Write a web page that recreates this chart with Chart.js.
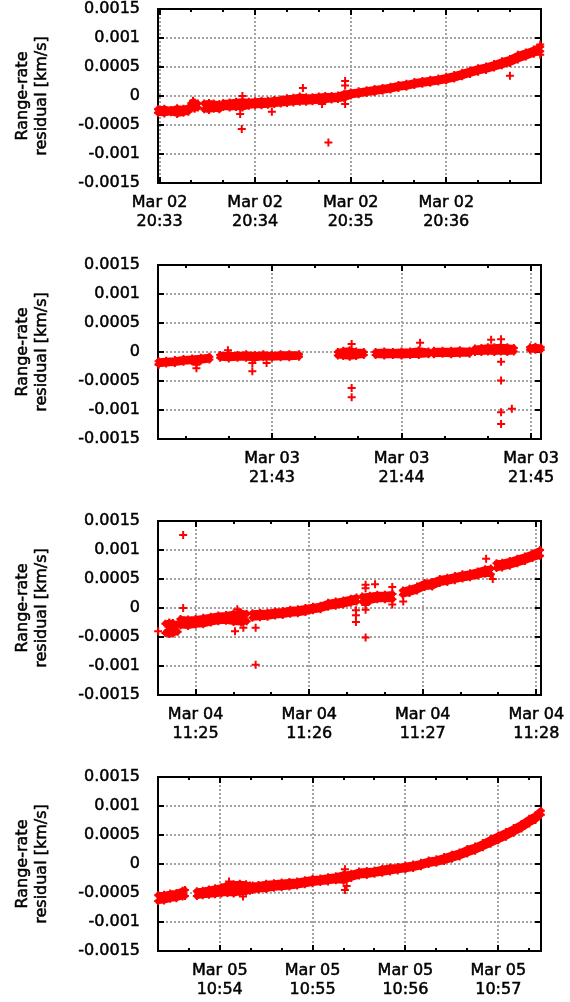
<!DOCTYPE html>
<html>
<head>
<meta charset="utf-8">
<script src="https://cdn.jsdelivr.net/npm/chart.js@4/dist/chart.umd.min.js"></script>
<style>
  html, body { margin: 0; padding: 0; background: #fff; overflow: hidden; }
  canvas { position: absolute; left: 0; }
</style>
</head>
<body>
<canvas id="pass1" width="570" height="256" style="top:0px"></canvas>
<canvas id="pass2" width="570" height="256" style="top:256px"></canvas>
<canvas id="pass3" width="570" height="256" style="top:512px"></canvas>
<canvas id="pass4" width="570" height="256" style="top:768px"></canvas>
<script>
// ------------------------------------------
// Range-rate residuals [km/s], one pass per panel.
// Times are seconds after the whole minute given in the comment.
// The residual cloud is kept as an upper/lower edge per sample time
// (null = no data), stray points are listed separately.
// ------------------------------------------

const residualTicks = [-0.0015, -0.001, -0.0005, 0, 0.0005, 0.001, 0.0015];
const residualTickLabels = ['-0.0015', '-0.001', '-0.0005', '0', '0.0005', '0.001', '0.0015'];
const residualTitle = ['Range-rate', 'residual [km/s]'];

// Pass 1 - Mar 02, seconds after 20:33:00
const p1Day = 'Mar 02';
const p1Range = [-1, 239.5];
const p1Ticks = [0, 60, 120, 180];
const p1TickLabels = ['20:33', '20:34', '20:35', '20:36'];
const p1Time  = [-1, 3, 7, 11, 15, 18, 19, 20, 22, 24, 26, 28, 31, 34, 37.5, 39, 40, 44, 48, 52, 56, 60, 64, 68, 72, 76, 80, 84, 88, 92, 96, 100, 104, 108, 112, 116, 120, 125, 130, 135, 140, 145, 150, 155, 160, 165, 170, 175, 180, 185, 190, 195, 200, 205, 210, 215, 220, 225, 230, 235, 239];
const p1Upper = [-0.00023, -0.00022, -0.00024, -0.00021, -0.00022, -0.0002, null, -0.00012, -0.00011, -0.00013, null, -0.00013, -0.00012, -0.00013, -0.00014, null, -0.00012, -0.00011, -0.0001, -0.00009, -0.0001, -0.00009, -0.00008, -0.00008, -0.00007, -0.00006, -0.00004, -0.00003, -0.00001, -0.00002, -0.00002, -0.00001, 0, 0, 0.00001, 0.00004, 0.00006, 0.00008, 0.0001, 0.00012, 0.00014, 0.00016, 0.00019, 0.00021, 0.00024, 0.00026, 0.00028, 0.0003, 0.00033, 0.00036, 0.0004, 0.00044, 0.00048, 0.00051, 0.00055, 0.0006, 0.00064, 0.00071, 0.00075, 0.0008, 0.00085];
const p1Lower = [-0.00029, -0.0003, -0.00028, -0.00031, -0.00029, -0.00027, null, -0.00021, -0.00022, -0.0002, null, -0.00023, -0.00024, -0.00022, -0.00023, null, -0.00019, -0.0002, -0.00019, -0.0002, -0.00017, -0.00016, -0.00016, -0.00015, -0.00014, -0.00013, -0.00012, -0.00011, -0.0001, -0.0001, -0.00009, -0.00008, -0.00007, -0.00006, -0.00005, -0.00004, 0.00001, 0.00003, 0.00005, 0.00007, 0.00009, 0.00011, 0.00014, 0.00016, 0.00019, 0.00021, 0.00023, 0.00025, 0.00027, 0.0003, 0.00034, 0.00038, 0.00042, 0.00045, 0.00049, 0.00053, 0.00057, 0.00063, 0.00068, 0.00073, 0.00077];
const p1StrayTime  = [21, 50.6, 51.6, 52, 70.5, 90, 102, 106, 116.5, 116.5, 116.5, 220, 239, 239];
const p1StrayValue = [-0.00008, -0.00031, -0.00057, 0, -0.00027, 0.00014, -0.00014, -0.0008, 0.00026, 0.00018, -0.00014, 0.00035, 0.00089, 0.00071];

// Pass 2 - Mar 03, seconds after 21:42:00
const p2Day = 'Mar 03';
const p2Range = [7.2, 184.6];
const p2Ticks = [60, 120, 180];
const p2TickLabels = ['21:43', '21:44', '21:45'];
const p2Time  = [7.5, 11, 15, 19, 23, 27, 31, 34, 36, 40, 44, 48, 52, 56, 60, 64, 68, 72.5, 80, 90.5, 93, 96, 99, 102.5, 105, 108, 112, 116, 120, 124, 128, 132.5, 133.7, 135, 139, 143, 147, 151.5, 152.8, 154, 157, 160, 163, 166, 169, 172, 176, 179.5, 182, 184.5];
const p2Upper = [-0.00016, -0.00015, -0.00014, -0.00012, -0.00011, -0.0001, -0.00008, null, -0.00005, -0.00005, -0.00005, -0.00004, -0.00005, -0.00004, -0.00005, -0.00004, -0.00004, -0.00004, null, 0, 0.00002, 0.00003, 0.00001, 0, null, 0, 0.00001, 0, 0.00001, 0.00001, 0.00003, 0.00001, null, 0.00002, 0.00002, 0.00002, 0.00003, 0.00002, null, 0.00006, 0.00007, 0.00008, 0.00008, 0.00009, 0.00008, 0.00007, null, 0.00008, 0.00009, 0.00008];
const p2Lower = [-0.00021, -0.0002, -0.00019, -0.00017, -0.00016, -0.00015, -0.00013, null, -0.0001, -0.00011, -0.0001, -0.0001, -0.00011, -0.00009, -0.0001, -0.00009, -0.00009, -0.00008, null, -0.00006, -0.00007, -0.00008, -0.00007, -0.00005, null, -0.00005, -0.00006, -0.00005, -0.00006, -0.00005, -0.00005, -0.00004, null, -0.00004, -0.00003, -0.00004, -0.00003, -0.00003, null, 0, 0, 0.00001, 0, 0.00001, 0, 0.00001, null, 0.00004, 0.00004, 0.00004];
const p2StrayTime  = [7.5, 25, 25, 39.6, 50.9, 50.9, 57.5, 96.9, 96.9, 96.9, 128.6, 161.5, 166.1, 166.1, 166.1, 166.1, 166.1, 171.1];
const p2StrayValue = [-0.00022, -0.00028, -0.00022, 0.00003, -0.00033, -0.00019, -0.00019, 0.00014, -0.00062, -0.00078, 0.00016, 0.00021, 0.00022, -0.00017, -0.00049, -0.00104, -0.00124, -0.00098];

// Pass 3 - Mar 04, seconds after 11:24:00
const p3Day = 'Mar 04';
const p3Range = [40.1, 242.5];
const p3Ticks = [60, 120, 180, 240];
const p3TickLabels = ['11:25', '11:26', '11:27', '11:28'];
const p3Time  = [44, 46, 48, 50.5, 51.2, 52, 56, 60, 64, 68, 72, 76, 80, 84, 87, 88.5, 90, 94, 98, 102, 106, 110, 114, 118, 122, 126, 130, 134, 138, 142, 145, 146.5, 148, 152, 156, 160, 164, 167, 169.5, 173, 177, 181, 185, 189, 193, 197, 201, 205, 209, 213, 216, 217.8, 219, 222, 226, 230, 234, 238, 242];
const p3Upper = [-0.00027, -0.00025, -0.00026, -0.00028, null, -0.00019, -0.0002, -0.00019, -0.00017, -0.00015, -0.00013, -0.00012, -0.0001, -0.00008, -0.0001, null, -0.00009, -0.00008, -0.00008, -0.00006, -0.00005, -0.00003, -0.00002, 0, 0.00002, 0.00004, 0.00009, 0.00011, 0.00013, 0.00016, 0.00018, null, 0.0002, 0.00021, 0.00023, 0.00023, 0.00024, null, 0.0003, 0.00033, 0.00037, 0.00043, 0.00045, 0.0005, 0.00052, 0.00055, 0.00058, 0.0006, 0.00063, 0.00067, 0.00068, null, 0.00077, 0.00078, 0.00081, 0.00085, 0.00089, 0.00094, 0.001];
const p3Lower = [-0.00043, -0.00045, -0.00044, -0.00041, null, -0.0003, -0.00031, -0.00029, -0.00028, -0.00025, -0.00023, -0.00022, -0.00024, -0.00025, -0.00023, null, -0.00017, -0.00016, -0.00015, -0.00013, -0.00012, -0.0001, -0.00009, -0.00007, -0.00004, -0.00002, 0.00002, 0.00004, 0.00006, 0.00009, 0.00011, null, 0.00011, 0.00012, 0.00015, 0.00015, 0.00015, null, 0.00023, 0.00026, 0.0003, 0.00036, 0.00037, 0.00043, 0.00045, 0.00048, 0.00051, 0.00053, 0.00056, 0.00059, 0.00058, null, 0.00069, 0.0007, 0.00073, 0.00077, 0.00081, 0.00086, 0.0009];
const p3StrayTime  = [40.2, 53.4, 53.4, 80.8, 82, 85.2, 91.7, 91.7, 144.7, 144.7, 144.7, 149.8, 149.8, 149.8, 149.8, 149.8, 154.8, 163.9, 163.9, 169.7, 213.5, 217];
const p3StrayValue = [-0.0004, 0.00126, 0, -0.0004, -0.00002, -0.00034, -0.00034, -0.00098, -0.00004, -0.000125, -0.00024, 0.0004, 0.00034, 0.00005, -0.00003, -0.00051, 0.00041, 0.00036, 0.00006, 0.00011, 0.00085, 0.0005];

// Pass 4 - Mar 05, seconds after 10:53:00
const p4Day = 'Mar 05';
const p4Range = [20.1, 267.6];
const p4Ticks = [60, 120, 180, 240];
const p4TickLabels = ['10:54', '10:55', '10:56', '10:57'];
const p4Time  = [20.2, 24, 28, 32, 36, 37.5, 41, 45.2, 49, 53, 57, 61, 65, 69, 73, 77, 79.5, 80.4, 81.3, 85, 90, 95, 100, 105, 110, 115, 120, 125, 130, 135, 140, 145, 150, 155, 160, 165, 170, 175, 180, 185, 190, 195, 200, 205, 210, 215, 220, 225, 230, 235, 240, 245, 250, 255, 260, 264, 267.5];
const p4Upper = [-0.00054, -0.00053, -0.00051, -0.0005, -0.00046, -0.00045, null, -0.00047, -0.00046, -0.00044, -0.00042, -0.0004, -0.00036, -0.00035, -0.00034, -0.00035, -0.00037, null, -0.00037, -0.00036, -0.00034, -0.00033, -0.00032, -0.00031, -0.0003, -0.00028, -0.00026, -0.00025, -0.00023, -0.00021, -0.00018, -0.00017, -0.00013, -0.00012, -0.00011, -0.00008, -0.00006, -0.00005, -0.00003, -0.00001, 0.00002, 0.00006, 0.00008, 0.00012, 0.00016, 0.0002, 0.00026, 0.0003, 0.00036, 0.00043, 0.00049, 0.00055, 0.00062, 0.00069, 0.00078, 0.00084, 0.00092];
const p4Lower = [-0.00064, -0.00063, -0.0006, -0.00059, -0.00056, -0.00055, null, -0.00055, -0.00054, -0.00053, -0.00052, -0.00051, -0.0005, -0.00051, -0.00049, -0.00048, -0.00046, null, -0.00045, -0.00044, -0.00043, -0.00041, -0.0004, -0.00039, -0.00037, -0.00035, -0.00033, -0.00031, -0.0003, -0.00028, -0.00029, -0.00024, -0.0002, -0.00019, -0.00017, -0.00015, -0.00013, -0.00011, -0.00009, -0.00007, -0.00004, 0, 0.00002, 0.00005, 0.00009, 0.00013, 0.00018, 0.00023, 0.00029, 0.00035, 0.00041, 0.00047, 0.00054, 0.00061, 0.0007, 0.00076, 0.00085];
const p4StrayTime  = [66, 75, 140.9, 140.9, 142];
const p4StrayValue = [-0.0003, -0.00056, -0.00045, -0.00009, -0.00038];

// ------------------------------------------
// Styling
// ------------------------------------------
const RED = '#ff0000';
const GRID = '#a4a4a4';
const FONT = "'DejaVu Sans', sans-serif";

Chart.defaults.font.family = FONT;
Chart.defaults.font.size = 16;
Chart.defaults.color = '#000';

const crossMarks = {
    pointStyle: 'cross',
    pointRadius: 4,
    pointBorderWidth: 2,
    pointBorderColor: RED,
    pointBackgroundColor: RED,
    tension: 0,
    clip: false,
};

// the edges of the residual cloud get a thick red stroke so the band reads solid
const bandEdge = { borderColor: RED, borderWidth: 6, borderJoinStyle: 'round', borderCapStyle: 'round' };

// gnuplot-like frame with inward tick marks (20 s minor steps on x)
const framePlugin = {
    id: 'frame',
    beforeDatasetsDraw(chart) {
        const {ctx, chartArea: a, scales: {x, y}} = chart;
        ctx.save();
        ctx.strokeStyle = '#000';
        ctx.lineWidth = 2;
        ctx.strokeRect(a.left, a.top, a.right - a.left, a.bottom - a.top);
        ctx.beginPath();
        for (let s = Math.ceil(x.min / 20) * 20; s <= x.max; s += 20) {
            const px = Math.round(x.getPixelForValue(s));
            const len = s % 60 === 0 ? 6 : 3;
            ctx.moveTo(px, a.bottom); ctx.lineTo(px, a.bottom - len);
            ctx.moveTo(px, a.top);    ctx.lineTo(px, a.top + len);
        }
        residualTicks.forEach(v => {
            const py = Math.round(y.getPixelForValue(v));
            ctx.moveTo(a.left, py);  ctx.lineTo(a.left + 6, py);
            ctx.moveTo(a.right, py); ctx.lineTo(a.right - 6, py);
        });
        ctx.stroke();
        ctx.restore();
    }
};

// two-line rotated y title, centred on the plot area
const yTitlePlugin = {
    id: 'yTitle',
    afterDraw(chart) {
        const {ctx, chartArea: a} = chart;
        ctx.save();
        ctx.translate(0, (a.top + a.bottom) / 2);
        ctx.rotate(-Math.PI / 2);
        ctx.font = '16px ' + FONT;
        ctx.fillStyle = '#000';
        ctx.strokeStyle = '#000';
        ctx.lineWidth = 0.5;
        ctx.textAlign = 'center';
        ctx.textBaseline = 'middle';
        residualTitle.forEach((line, i) => {
            ctx.fillText(line, 0, 23 + i * 19);
            ctx.strokeText(line, 0, 23 + i * 19);
        });
        ctx.restore();
    }
};

function pairs(xs, ys) {
    return xs.map((t, i) => ({x: t, y: ys[i]}));
}

function drawPass(canvasId, pass) {
    return new Chart(document.getElementById(canvasId), {
        type: 'line',
        data: {
            datasets: [
                { ...crossMarks, ...bandEdge, data: pairs(pass.time, pass.lower), fill: false },
                { ...crossMarks, ...bandEdge, data: pairs(pass.time, pass.upper), fill: '-1', backgroundColor: RED },
                { ...crossMarks, data: pairs(pass.strayTime, pass.strayValue), showLine: false, fill: false },
            ]
        },
        options: {
            responsive: false,
            animation: false,
            events: [],
            spanGaps: false,
            layout: { padding: { top: 9, right: 29, left: 0, bottom: 0 }, autoPadding: false },
            plugins: { legend: { display: false }, tooltip: { enabled: false } },
            scales: {
                x: {
                    type: 'linear',
                    min: pass.range[0],
                    max: pass.range[1],
                    afterBuildTicks: s => { s.ticks = pass.ticks.map(v => ({value: v})); },
                    afterFit: s => { s.height = 73; },
                    grid: { color: GRID, lineWidth: 2, drawTicks: true, tickLength: 11, tickColor: 'rgba(0,0,0,0)' },
                    border: { display: false, dash: [2, 2] },
                    ticks: {
                        autoSkip: false,
                        maxRotation: 0,
                        padding: 0,
                        font: { size: 16, lineHeight: 1.15 },
                        textStrokeColor: '#000',
                        textStrokeWidth: 0.5,
                        callback: (v, i) => [pass.day, pass.tickLabels[i]],
                    },
                },
                y: {
                    min: -0.0015,
                    max: 0.0015,
                    afterBuildTicks: s => { s.ticks = residualTicks.map(v => ({value: v})); },
                    afterFit: s => { s.width = 158; },
                    grid: { color: GRID, lineWidth: 2, drawTicks: true, tickLength: 18, tickColor: 'rgba(0,0,0,0)' },
                    border: { display: false, dash: [2, 2] },
                    ticks: {
                        padding: 0,
                        font: { size: 16, lineHeight: 1.1 },
                        textStrokeColor: '#000',
                        textStrokeWidth: 0.5,
                        callback: (v, i) => residualTickLabels[i],
                    },
                },
            },
        },
        plugins: [framePlugin, yTitlePlugin],
    });
}

drawPass('pass1', { day: p1Day, range: p1Range, ticks: p1Ticks, tickLabels: p1TickLabels,
    time: p1Time, upper: p1Upper, lower: p1Lower, strayTime: p1StrayTime, strayValue: p1StrayValue });
drawPass('pass2', { day: p2Day, range: p2Range, ticks: p2Ticks, tickLabels: p2TickLabels,
    time: p2Time, upper: p2Upper, lower: p2Lower, strayTime: p2StrayTime, strayValue: p2StrayValue });
drawPass('pass3', { day: p3Day, range: p3Range, ticks: p3Ticks, tickLabels: p3TickLabels,
    time: p3Time, upper: p3Upper, lower: p3Lower, strayTime: p3StrayTime, strayValue: p3StrayValue });
drawPass('pass4', { day: p4Day, range: p4Range, ticks: p4Ticks, tickLabels: p4TickLabels,
    time: p4Time, upper: p4Upper, lower: p4Lower, strayTime: p4StrayTime, strayValue: p4StrayValue });
</script>
</body>
</html>
